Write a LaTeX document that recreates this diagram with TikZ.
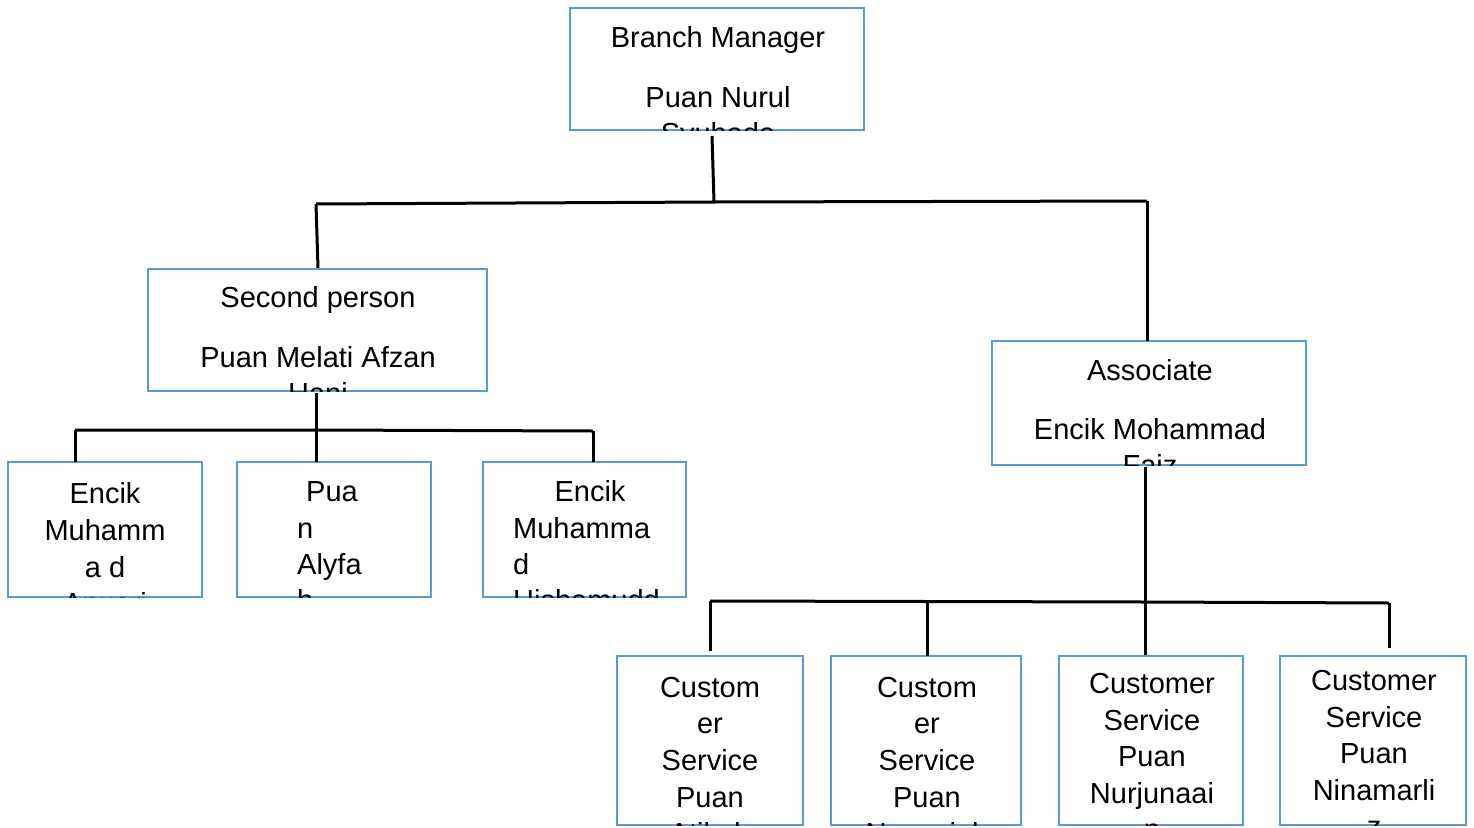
\documentclass[tikz,border=0pt]{standalone}
\usepackage{fontspec}
\setmainfont{Liberation Sans}
\usetikzlibrary{fit}
\definecolor{boxblue}{RGB}{91,155,213}
\begin{document}
\begin{tikzpicture}[x=1pt,y=-1pt,
  box/.style={draw=boxblue,line width=2pt,inner sep=0pt,outer sep=0pt},
  conn/.style={line width=3pt,black},
  txt/.style={inner sep=0pt,font=\fontsize{29}{35}\selectfont,anchor=base},
  txtl/.style={txt,anchor=base west}]
\fill[white] (0,0) rectangle (1474,827);
\useasboundingbox (0,0) rectangle (1474,827);

% box corners
\coordinate (bmA) at (570,8);    \coordinate (bmB) at (864,130);
\coordinate (spA) at (148,269);  \coordinate (spB) at (487,391);
\coordinate (acA) at (992,341);  \coordinate (acB) at (1306,465);
\coordinate (l1A) at (8,462);    \coordinate (l1B) at (202,597);
\coordinate (l2A) at (237,462);  \coordinate (l2B) at (431,597);
\coordinate (l3A) at (483,462);  \coordinate (l3B) at (686,597);
\coordinate (c1A) at (617,656);  \coordinate (c1B) at (803,825);
\coordinate (c2A) at (831,656);  \coordinate (c2B) at (1021,825);
\coordinate (c3A) at (1059,656); \coordinate (c3B) at (1243,825);
\coordinate (c4A) at (1280,656); \coordinate (c4B) at (1466,825);

\node[box,fit=(bmA)(bmB)] (bm) {};
\node[box,fit=(spA)(spB)] (sp) {};
\node[box,fit=(acA)(acB)] (ac) {};
\node[box,fit=(l1A)(l1B)] (l1) {};
\node[box,fit=(l2A)(l2B)] (l2) {};
\node[box,fit=(l3A)(l3B)] (l3) {};
\node[box,fit=(c1A)(c1B)] (c1) {};
\node[box,fit=(c2A)(c2B)] (c2) {};
\node[box,fit=(c3A)(c3B)] (c3) {};
\node[box,fit=(c4A)(c4B)] (c4) {};

% junctions
\coordinate (j0) at (712,136);
\coordinate (j1) at (714,202);
\coordinate (jl) at (316,204);
\coordinate (jr) at (1147,201);
\coordinate (s0) at (316,393);
\coordinate (s1) at (316,430);
\coordinate (sl) at (75,430);
\coordinate (sr) at (593,431);
\coordinate (a0) at (1145,467);
\coordinate (a1) at (1145,602);
\coordinate (al) at (710,601);
\coordinate (ar) at (1389,603);
\coordinate (a2) at (927,603);

% connectors
\draw[conn] (j0) -- (j1);
\draw[conn] (jl) -- (j1) -- (jr);
\draw[conn] (jl) -- (318,268) coordinate (spt);
\draw[conn] (jr) -- (jr |- ac.north);
\draw[conn] (s0) -- (s1) -- (s1 |- l2.north);
\draw[conn] (sl) -- (s1) -- (sr);
\draw[conn] (sl) -- (sl |- l1.north);
\draw[conn] (sr) -- (sr |- l3.north);
\draw[conn] (a0) -- (a1) -- (1145,655);
\draw[conn] (al) -- (a1) -- (ar);
\draw[conn] (al) -- (710,651);
\draw[conn] (a2) -- (a2 |- c2.north);
\draw[conn] (ar) -- (1389,648);

% texts (clipped to boxes)
\begin{scope}
\clip (bm.south west) rectangle (bm.north east);
\node[txt] (bmt1) at (718,47) {Branch Manager};
\node[txt] (bmt2) at (718,107) {Puan Nurul};
\node[txt] (bmt3) at (718,143) {Syuhada};
\end{scope}
\begin{scope}
\clip (sp.south west) rectangle (sp.north east);
\node[txt] (spt1) at (318,307) {Second person};
\node[txt] (spt2) at (318,367) {Puan Melati Afzan};
\node[txt] (spt3) at (318,403) {Hani};
\end{scope}
\begin{scope}
\clip (ac.south west) rectangle (ac.north east);
\node[txt] (act1) at (1150,380) {Associate};
\node[txt] (act2) at (1150,439) {Encik Mohammad};
\node[txt] (act3) at (1150,475) {Faiz};
\end{scope}
\begin{scope}
\clip (l1.south west) rectangle (l1.north east);
\node[txt] (l1t1) at (105,503) {Encik};
\node[txt] (l1t2) at (105,540) {Muhamm};
\node[txt] (l1t3) at (105,577) {a d};
\node[txt] (l1t4) at (105,613) {Anuari};
\end{scope}
\begin{scope}
\clip (l2.south west) rectangle (l2.north east);
\node[txtl] (l2t1) at (306,501) {Pua};
\node[txtl] (l2t2) at (297,538) {n};
\node[txtl] (l2t3) at (297,574) {Alyfa};
\node[txtl] (l2t4) at (297,610) {h};
\end{scope}
\begin{scope}
\clip (l3.south west) rectangle (l3.north east);
\node[txt] (l3t1) at (590,501) {Encik};
\node[txtl] (l3t2) at (513,538) {Muhamma};
\node[txtl] (l3t3) at (513,574) {d};
\node[txtl] (l3t4) at (513,610) {Hishamudd};
\end{scope}
\begin{scope}
\clip (c1.south west) rectangle (c1.north east);
\node[txt] (c1t1) at (710,697) {Custom};
\node[txt] (c1t2) at (710,733) {er};
\node[txt] (c1t3) at (710,770) {Service};
\node[txt] (c1t4) at (710,807) {Puan};
\node[txt] (c1t5) at (710,843) {Atikah};
\end{scope}
\begin{scope}
\clip (c2.south west) rectangle (c2.north east);
\node[txt] (c2t1) at (927,697) {Custom};
\node[txt] (c2t2) at (927,733) {er};
\node[txt] (c2t3) at (927,770) {Service};
\node[txt] (c2t4) at (927,807) {Puan};
\node[txt] (c2t5) at (927,843) {Nazaniah};
\end{scope}
\begin{scope}
\clip (c3.south west) rectangle (c3.north east);
\node[txt] (c3t1) at (1152,693) {Customer};
\node[txt] (c3t2) at (1152,730) {Service};
\node[txt] (c3t3) at (1152,766) {Puan};
\node[txt] (c3t4) at (1152,803) {Nurjunaai};
\node[txt] (c3t5) at (1152,839) {n};
\end{scope}
\begin{scope}
\clip (c4.south west) rectangle (c4.north east);
\node[txt] (c4t1) at (1374,690) {Customer};
\node[txt] (c4t2) at (1374,727) {Service};
\node[txt] (c4t3) at (1374,763) {Puan};
\node[txt] (c4t4) at (1374,800) {Ninamarli};
\node[txt] (c4t5) at (1374,836) {z};
\end{scope}
\end{tikzpicture}
\end{document}
